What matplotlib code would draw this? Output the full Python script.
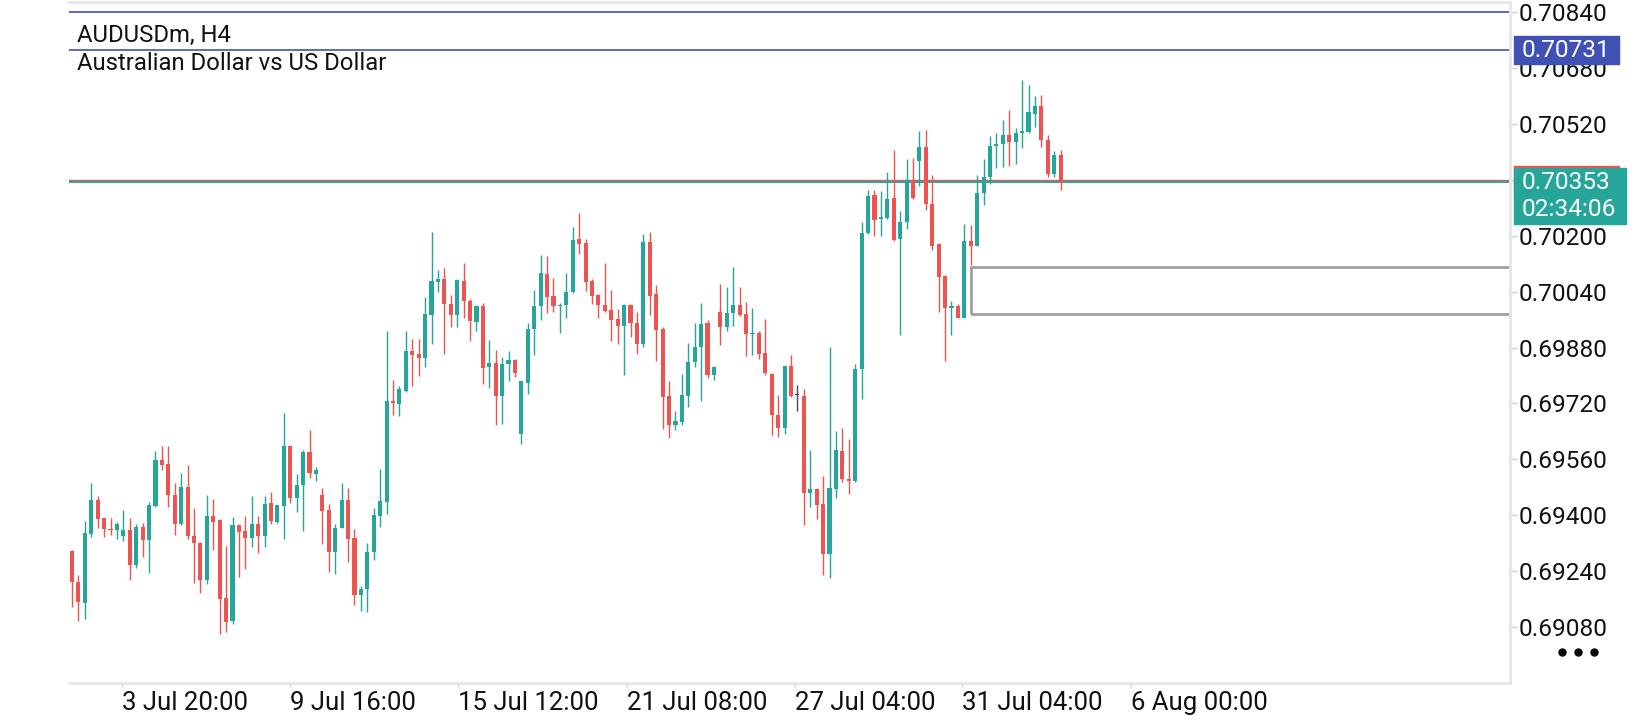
import numpy as np
import matplotlib
matplotlib.use("Agg")
import matplotlib.pyplot as plt
import matplotlib.transforms as mtransforms
from matplotlib.patches import Rectangle
from matplotlib.lines import Line2D

plt.rcParams["font.family"] = ["Roboto", "DejaVu Sans"]

# AUDUSDm H4 candles, oldest first
opens = [
    0.69299, 0.69208, 0.69148, 0.69346, 0.69445, 0.69391, 0.69362, 0.69357, 0.69340, 0.69359,
    0.69257, 0.69366, 0.69329, 0.69426, 0.69559, 0.69548, 0.69459, 0.69374, 0.69482, 0.69342,
    0.69322, 0.69214, 0.69399, 0.69386, 0.69162, 0.69097, 0.69371, 0.69356, 0.69334, 0.69374,
    0.69340, 0.69434, 0.69382, 0.69426, 0.69599, 0.69449, 0.69486, 0.69582, 0.69517, 0.69459,
    0.69416, 0.69294, 0.69365, 0.69445, 0.69336, 0.69171, 0.69188, 0.69294, 0.69399, 0.69439,
    0.69728, 0.69718, 0.69757, 0.69871, 0.69863, 0.69849, 0.69974, 0.70067, 0.70077, 0.70006,
    0.69972, 0.70071, 0.70014, 0.69952, 0.70000, 0.69823, 0.69837, 0.69740, 0.69832, 0.69845,
    0.69632, 0.69780, 0.69932, 0.69998, 0.70091, 0.70028, 0.69998, 0.70001, 0.70038, 0.70192,
    0.70180, 0.70071, 0.70031, 0.70003, 0.69988, 0.69963, 0.69941, 0.70003, 0.69951, 0.69889,
    0.70183, 0.70034, 0.69932, 0.69742, 0.69658, 0.69666, 0.69740, 0.69838, 0.69881, 0.69951,
    0.69801, 0.69983, 0.69938, 0.69980, 0.70003, 0.69977, 0.69918, 0.69923, 0.69865, 0.69805,
    0.69688, 0.69649, 0.69828, 0.69743, 0.69742, 0.69463, 0.69474, 0.69431, 0.69289, 0.69475,
    0.69585, 0.69505, 0.69497, 0.69818, 0.70207, 0.70317, 0.70247, 0.70250, 0.70309, 0.70190,
    0.70238, 0.70357, 0.70413, 0.70455, 0.70292, 0.70177, 0.70084, 0.69992, 0.69998, 0.69966,
    0.70186, 0.70172, 0.70321, 0.70367, 0.70457, 0.70463, 0.70489, 0.70469, 0.70495, 0.70497,
    0.70549, 0.70572, 0.70475, 0.70378, 0.70432,
]
highs = [
    0.69302, 0.69228, 0.69385, 0.69491, 0.69456, 0.69392, 0.69391, 0.69382, 0.69416, 0.69391,
    0.69374, 0.69379, 0.69439, 0.69585, 0.69599, 0.69597, 0.69491, 0.69522, 0.69545, 0.69422,
    0.69323, 0.69459, 0.69448, 0.69388, 0.69311, 0.69396, 0.69374, 0.69399, 0.69454, 0.69399,
    0.69456, 0.69468, 0.69429, 0.69694, 0.69600, 0.69519, 0.69588, 0.69645, 0.69537, 0.69477,
    0.69431, 0.69374, 0.69492, 0.69477, 0.69362, 0.69199, 0.69322, 0.69422, 0.69532, 0.69926,
    0.69788, 0.69771, 0.69926, 0.69905, 0.69905, 0.70026, 0.70212, 0.70103, 0.70109, 0.70031,
    0.70076, 0.70123, 0.70020, 0.70003, 0.70008, 0.69903, 0.69874, 0.69854, 0.69871, 0.69846,
    0.69784, 0.69951, 0.70046, 0.70146, 0.70143, 0.70080, 0.70008, 0.70094, 0.70226, 0.70266,
    0.70192, 0.70077, 0.70034, 0.70123, 0.70046, 0.69991, 0.70004, 0.70006, 0.69981, 0.70206,
    0.70212, 0.70060, 0.69938, 0.69783, 0.69698, 0.69805, 0.69894, 0.69951, 0.70008, 0.69960,
    0.69826, 0.70063, 0.70054, 0.70111, 0.70054, 0.70011, 0.69994, 0.69926, 0.69963, 0.69806,
    0.69745, 0.69829, 0.69860, 0.69774, 0.69760, 0.69588, 0.69477, 0.69511, 0.69883, 0.69640,
    0.69651, 0.69619, 0.69834, 0.70240, 0.70332, 0.70332, 0.70329, 0.70383, 0.70446, 0.70272,
    0.70420, 0.70423, 0.70500, 0.70503, 0.70375, 0.70178, 0.70089, 0.70012, 0.70006, 0.70235,
    0.70230, 0.70375, 0.70420, 0.70486, 0.70495, 0.70532, 0.70560, 0.70509, 0.70646, 0.70632,
    0.70600, 0.70603, 0.70489, 0.70443, 0.70446,
]
lows = [
    0.69137, 0.69097, 0.69104, 0.69337, 0.69363, 0.69337, 0.69345, 0.69331, 0.69325, 0.69214,
    0.69250, 0.69280, 0.69234, 0.69423, 0.69531, 0.69423, 0.69345, 0.69372, 0.69331, 0.69206,
    0.69177, 0.69202, 0.69300, 0.69060, 0.69065, 0.69088, 0.69223, 0.69246, 0.69309, 0.69291,
    0.69309, 0.69374, 0.69379, 0.69331, 0.69434, 0.69409, 0.69354, 0.69506, 0.69497, 0.69317,
    0.69237, 0.69231, 0.69364, 0.69266, 0.69143, 0.69126, 0.69123, 0.69271, 0.69366, 0.69405,
    0.69686, 0.69683, 0.69754, 0.69771, 0.69798, 0.69823, 0.69889, 0.70038, 0.69861, 0.69940,
    0.69938, 0.69964, 0.69898, 0.69926, 0.69775, 0.69763, 0.69658, 0.69660, 0.69783, 0.69795,
    0.69603, 0.69746, 0.69858, 0.69958, 0.69978, 0.69983, 0.69921, 0.69966, 0.70036, 0.70149,
    0.70041, 0.70006, 0.69964, 0.69983, 0.69898, 0.69889, 0.69801, 0.69909, 0.69861, 0.69881,
    0.69972, 0.69841, 0.69646, 0.69620, 0.69643, 0.69658, 0.69709, 0.69823, 0.69726, 0.69792,
    0.69786, 0.69886, 0.69926, 0.69941, 0.69969, 0.69855, 0.69858, 0.69846, 0.69801, 0.69629,
    0.69623, 0.69632, 0.69738, 0.69698, 0.69372, 0.69423, 0.69389, 0.69229, 0.69220, 0.69449,
    0.69494, 0.69460, 0.69496, 0.69732, 0.70206, 0.70198, 0.70198, 0.70249, 0.70186, 0.69915,
    0.70218, 0.70306, 0.70343, 0.70275, 0.70158, 0.69981, 0.69841, 0.69915, 0.69964, 0.69965,
    0.70115, 0.70171, 0.70287, 0.70347, 0.70395, 0.70398, 0.70401, 0.70404, 0.70450, 0.70495,
    0.70512, 0.70455, 0.70367, 0.70367, 0.70332,
]
closes = [
    0.69209, 0.69151, 0.69348, 0.69445, 0.69390, 0.69361, 0.69358, 0.69375, 0.69359, 0.69257,
    0.69366, 0.69329, 0.69428, 0.69559, 0.69543, 0.69457, 0.69374, 0.69482, 0.69340, 0.69320,
    0.69214, 0.69399, 0.69380, 0.69160, 0.69094, 0.69371, 0.69351, 0.69334, 0.69374, 0.69340,
    0.69431, 0.69385, 0.69428, 0.69599, 0.69449, 0.69488, 0.69582, 0.69520, 0.69529, 0.69412,
    0.69294, 0.69365, 0.69445, 0.69331, 0.69171, 0.69190, 0.69296, 0.69402, 0.69442, 0.69728,
    0.69720, 0.69760, 0.69871, 0.69860, 0.69849, 0.69977, 0.70071, 0.70077, 0.70004, 0.69972,
    0.70074, 0.70012, 0.69955, 0.70000, 0.69821, 0.69837, 0.69740, 0.69834, 0.69843, 0.69806,
    0.69783, 0.69934, 0.70000, 0.70094, 0.70026, 0.69998, 0.70003, 0.70040, 0.70189, 0.70175,
    0.70069, 0.70028, 0.70001, 0.69986, 0.69958, 0.69941, 0.70003, 0.69949, 0.69889, 0.70183,
    0.70029, 0.69929, 0.69738, 0.69658, 0.69669, 0.69743, 0.69840, 0.69883, 0.69948, 0.69801,
    0.69823, 0.69938, 0.69980, 0.70003, 0.69972, 0.69918, 0.69923, 0.69863, 0.69806, 0.69686,
    0.69649, 0.69828, 0.69740, 0.69743, 0.69463, 0.69474, 0.69429, 0.69289, 0.69477, 0.69586,
    0.69503, 0.69497, 0.69820, 0.70209, 0.70314, 0.70244, 0.70254, 0.70306, 0.70187, 0.70240,
    0.70360, 0.70309, 0.70455, 0.70290, 0.70172, 0.70081, 0.69992, 0.69998, 0.69966, 0.70186,
    0.70172, 0.70323, 0.70369, 0.70457, 0.70463, 0.70489, 0.70469, 0.70495, 0.70500, 0.70555,
    0.70572, 0.70473, 0.70378, 0.70432, 0.70353,
]

tick_idx = [7.74, 33.98, 60.2, 86.4, 112.6, 138.7, 164.9]
tick_labels = ["3 Jul 20:00", "9 Jul 16:00", "15 Jul 12:00", "21 Jul 08:00",
               "27 Jul 04:00", "31 Jul 04:00", "6 Aug 00:00"]

bid = 0.70353
ask = 0.70361
hline_top = 0.70840
hline_level = 0.70731
countdown = "02:34:06"
box_start = 140
box_top = 0.70112
box_bottom = 0.69976

GREEN = "#26a69a"
RED = "#ef5350"
DOJI = "#4a4a4a"
BLUE = "#3f51b5"
FRAME = "#e6e6e6"

YMIN, YMAX = 0.68920, 0.70869

o = np.array(opens)
h = np.array(highs)
l = np.array(lows)
c = np.array(closes)
x = np.arange(len(o))
cols = np.where(c > o, GREEN, np.where(c < o, RED, DOJI))

fig = plt.figure(figsize=(16.4, 7.2), dpi=100)
ax = fig.add_axes([69 / 1640, 37 / 720, 1441 / 1640, 681 / 720])

ax.vlines(x, l, h, colors=cols, lw=1.0, zorder=3)
ax.bar(x, np.maximum(np.abs(c - o), 0.00003), width=0.64,
       bottom=np.minimum(o, c), color=cols, lw=0, zorder=4)

ax.axhline(hline_top, color=BLUE, lw=1.2, zorder=2)
ax.axhline(hline_level, color=BLUE, lw=1.2, zorder=2)
ax.axhline(ask, color=RED, lw=1.0, zorder=2)
ax.axhline(bid, color=GREEN, lw=1.4, zorder=2)

ax.add_patch(Rectangle((box_start, box_bottom), 120, box_top - box_bottom,
                       fill=False, ec="#a0a0a0", lw=2, zorder=2))

ax.set_xlim(-0.47, 224.0)
ax.set_ylim(YMIN, YMAX)

for s in ["top", "right", "bottom"]:
    ax.spines[s].set_color(FRAME)
    ax.spines[s].set_linewidth(2)
ax.spines["left"].set_visible(False)

ax.yaxis.tick_right()
yt = np.arange(0.69080, 0.70841, 0.0016)
ax.set_yticks(yt)
# the level hidden under the bid label box is left blank
ax.set_yticklabels(["" if abs(v - bid) < 0.0001 else "%.5f" % v for v in yt])
ax.tick_params(axis="y", length=5, width=1, color="#d0d0d0", pad=1,
               labelsize=17.6, labelcolor="#111111")
ax.set_xticks(tick_idx)
ax.set_xticklabels(tick_labels)
for t in ax.get_xticklabels():
    t.set_ha("left")
ax.tick_params(axis="x", length=3, width=1, color="#d0d0d0", pad=3,
               labelsize=18.5, labelcolor="#111111")

# price labels on the right scale
blend = mtransforms.blended_transform_factory(ax.transAxes, ax.transData)
px = (YMAX - YMIN) / 681.0
bx = (1514 - 69) / 1441


def price_box(price, lines, color, width_px, nrows):
    hgt = 27.7 * px * nrows
    top = price + 13.8 * px
    ax.add_patch(Rectangle((bx, top - hgt), width_px / 1441, hgt, transform=blend,
                           color=color, clip_on=False, zorder=6))
    for k, s in enumerate(lines):
        ax.text(bx + 7.7 / 1441, price - k * 27.3 * px, s, transform=blend,
                color="white", fontsize=17.6, va="center", ha="left",
                clip_on=False, zorder=7)


price_box(hline_level, ["%.5f" % hline_level], BLUE, 104.7, 1)
price_box(ask, [], RED, 105, 1)
price_box(bid, ["%.5f" % bid, countdown], GREEN, 112, 2)

fig.text(76.7 / 1640, (720 - 42) / 720, "AUDUSDm, H4", fontsize=17.2,
         color="#111111", va="baseline")
fig.text(76.7 / 1640, (720 - 69.5) / 720, "Australian Dollar vs US Dollar",
         fontsize=17.2, color="#111111", va="baseline")

fig.add_artist(Line2D([1562 / 1640, 1578 / 1640, 1594 / 1640], [(720 - 652) / 720] * 3,
                      transform=fig.transFigure, marker="o", ls="none", ms=5,
                      color="black"))

fig.savefig("out.png", dpi=100)
